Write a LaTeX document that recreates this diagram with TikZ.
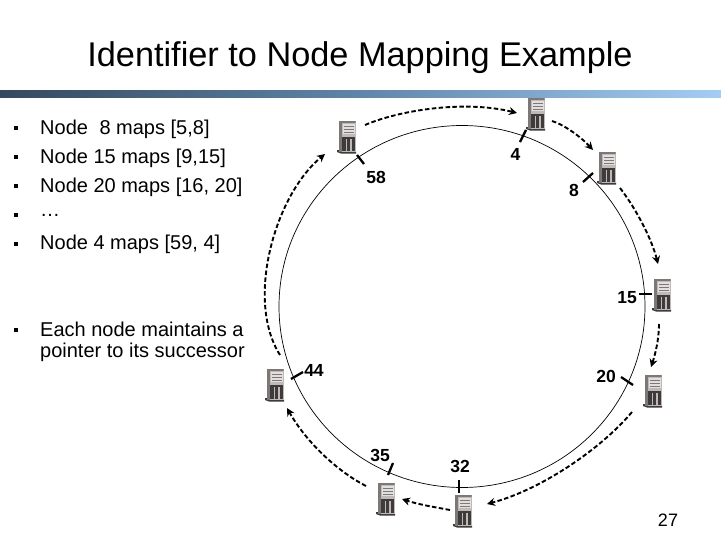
\documentclass[tikz,border=0pt]{standalone}
\usepackage{fontspec}
\setmainfont{Liberation Sans}
\usetikzlibrary{arrows.meta}
\definecolor{barL}{HTML}{34495F}
\definecolor{barM}{HTML}{5F85AA}
\definecolor{barR}{HTML}{A3CDF5}
\definecolor{srvBody}{HTML}{C2B9B6}
\definecolor{srvDark}{HTML}{3C3C3C}
\definecolor{srvMid}{HTML}{7D7875}
\tikzset{
  x=1pt,y=-1pt,
  bodytext/.style={anchor=west,inner sep=0pt,font=\fontsize{20}{20}\selectfont},
  bulletmark/.style={anchor=center,inner sep=0pt},
  idlabel/.style={inner sep=0pt,font=\fontsize{17.5}{17.5}\selectfont\bfseries},
  ring/.style={draw=black,line width=0.7pt},
  tick/.style={draw=black,line width=2.3pt},
  succ/.style={draw=black,line width=1.9pt,dash pattern=on 4.5pt off 2.4pt,-{Stealth[length=8pt,width=8pt]}},
  server/.style={minimum width=17pt,minimum height=31pt,inner sep=0pt,fill=srvBody,draw=none,
    path picture={
      \fill[srvMid] (path picture bounding box.north west) rectangle ([xshift=3pt]path picture bounding box.south west);
      \fill[srvMid] ([xshift=3pt]path picture bounding box.north west) rectangle ([yshift=-2pt]path picture bounding box.north east);
      \fill[white!88!black] ([shift={(4pt,-3pt)}]path picture bounding box.north west) rectangle ([shift={(-1pt,-13pt)}]path picture bounding box.north east);
      \fill[srvMid] ([shift={(5pt,-5pt)}]path picture bounding box.north west) rectangle ([shift={(-2pt,-6pt)}]path picture bounding box.north east);
      \fill[srvMid] ([shift={(5pt,-8pt)}]path picture bounding box.north west) rectangle ([shift={(-2pt,-9pt)}]path picture bounding box.north east);
      \fill[srvMid] ([shift={(5pt,-11pt)}]path picture bounding box.north west) rectangle ([shift={(-2pt,-12pt)}]path picture bounding box.north east);
      \fill[srvDark] ([shift={(3pt,1pt)}]path picture bounding box.south west) rectangle ([shift={(-1pt,15pt)}]path picture bounding box.south east);
      \fill[srvBody] ([shift={(7pt,1pt)}]path picture bounding box.south west) rectangle ([shift={(8.5pt,13pt)}]path picture bounding box.south west);
      \fill[srvBody] ([shift={(11.5pt,1pt)}]path picture bounding box.south west) rectangle ([shift={(13pt,13pt)}]path picture bounding box.south west);
    }},
}
\newcommand{\srv}[3]{%
  \fill[srvDark] (#2-10,#3+14) -- (#2+9,#3+15.5) -- (#2+9,#3+17.5) -- (#2-6,#3+17.5) -- (#2-10,#3+16) -- cycle;
  \node[server] (#1) at (#2,#3) {};
}
\begin{document}
\begin{tikzpicture}
\useasboundingbox (0,0) rectangle (721,541);
\fill[white] (0,0) rectangle (721,541);
\shade[left color=barL,right color=barM,draw=none] (0,90) rectangle (360,97);
\shade[left color=barM,right color=barR,draw=none] (360,90) rectangle (721,97);
\node[inner sep=0pt,font=\fontsize{34.3}{34.3}\selectfont] (title) at (360,58) {Identifier to Node Mapping Example};
% bullets
\foreach \n/\yy in {a/128,b/157,c/186,d/215,e/244,f/330}
  \node[bulletmark] (b\n) at (16,\yy) {\rule{3.5pt}{3.5pt}};
\node[bodytext] (t1) at (40,129.5) {Node\hspace{0.3em} 8 maps [5,8]};
\node[bodytext] (t2) at (40,158.5) {Node 15 maps [9,15]};
\node[bodytext] (t3) at (40,187.5) {Node 20 maps [16, 20]};
\node[bodytext] (t4) at (40,215.5) {…};
\node[bodytext] (t5) at (40,244.5) {Node 4 maps [59, 4]};
\node[bodytext,align=left,font=\fontsize{20}{21}\selectfont] (t6) at (40,341.5) {Each node maintains a\\pointer to its successor};
% ring
\draw[ring] (462,306.5) ellipse [x radius=183,y radius=181];
% servers
\srv{s4}{536}{113}
\srv{s8}{607}{167}
\srv{s58}{347}{136}
\srv{s15}{662}{294}
\srv{s20}{653}{390}
\srv{s44}{275}{384}
\srv{s35}{386}{498}
\srv{s32}{463}{510}
% labels
\node[idlabel] (l4) at (515.5,154) {4};
\node[idlabel] (l58) at (376,177) {58};
\node[idlabel] (l8) at (574,190.5) {8};
\node[idlabel] (l15) at (627,298) {15};
\node[idlabel] (l20) at (606,376) {20};
\node[idlabel] (l44) at (314,370) {44};
\node[idlabel] (l35) at (380,455) {35};
\node[idlabel] (l32) at (460,466) {32};
\node[inner sep=0pt,font=\fontsize{18}{18}\selectfont] (pg) at (668,520) {27};
% ticks
\coordinate (k4a) at (526,130); \coordinate (k4b) at (520,142);
\coordinate (k58a) at (357,155); \coordinate (k58b) at (364,164);
\coordinate (k8a) at (593,173); \coordinate (k8b) at (583,182);
\coordinate (k15a) at (652,294); \coordinate (k15b) at (639,294);
\coordinate (k20a) at (633,385); \coordinate (k20b) at (621,377);
\coordinate (k44a) at (291,379); \coordinate (k44b) at (303,372);
\coordinate (k35a) at (388,475); \coordinate (k35b) at (393,463);
\coordinate (k32a) at (459,493); \coordinate (k32b) at (459,480);
\foreach \t in {4,58,8,15,20,44,35,32}
  \draw[tick] (k\t a) -- (k\t b);
% successor arrows
\draw[succ] ([shift={(18,-11)}]s58.center) .. controls (400,110) and (465,100) .. ([shift={(-19,0)}]s4.center);
\draw[succ] ([shift={(16,8)}]s4.center) .. controls (565,125) and (582,138) .. ([shift={(-14,-17)}]s8.center);
\draw[succ] ([shift={(13,21)}]s8.center) .. controls (637,210) and (652,240) .. ([shift={(-4,-30)}]s15.center);
\draw[succ] ([shift={(-3,30)}]s15.center) .. controls (659,340) and (655,355) .. ([shift={(-2,-23)}]s20.center);
\draw[succ] ([shift={(-21,22)}]s20.center) .. controls (600,450) and (540,490) .. ([shift={(24,-6)}]s32.center);
\draw[succ] ([shift={(-13,0)}]s32.center) .. controls (440,508) and (420,505) .. ([shift={(16,1)}]s35.center);
\draw[succ] ([shift={(-20,-12)}]s35.center) .. controls (335,470) and (305,440) .. ([shift={(12,24)}]s44.center);
\draw[succ] ([shift={(5,-29)}]s44.center) .. controls (245,300) and (275,195) .. ([shift={(-22,18)}]s58.center);
\end{tikzpicture}
\end{document}
